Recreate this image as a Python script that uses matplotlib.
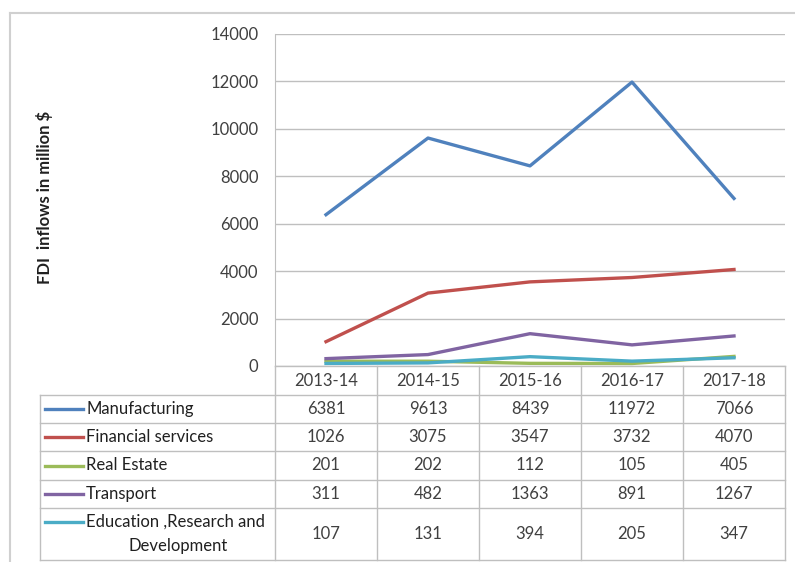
import matplotlib.pyplot as plt
from matplotlib.lines import Line2D
from matplotlib.transforms import blended_transform_factory

plt.rcParams['font.family'] = ['Lato', 'DejaVu Sans']

years = ["2013-14", "2014-15", "2015-16", "2016-17", "2017-18"]
manufacturing = [6381, 9613, 8439, 11972, 7066]
financial = [1026, 3075, 3547, 3732, 4070]
real_estate = [201, 202, 112, 105, 405]
transport = [311, 482, 1363, 891, 1267]
education = [107, 131, 394, 205, 347]

names = ["Manufacturing", "Financial services", "Real Estate", "Transport",
         "Education ,Research and\nDevelopment"]
series = [manufacturing, financial, real_estate, transport, education]
colors = ["#4F81BD", "#C0504D", "#9BBB59", "#8064A2", "#4BACC6"]

W, H = 795, 562
fig = plt.figure(figsize=(W / 100, H / 100), dpi=100)

def fx(px):
    return px / W

def fy(py):
    return 1 - py / H

grid_c = "#BFBFBF"
text_c = "#404040"
fs = 12

# outer chart border
fig.add_artist(Line2D([fx(10), fx(10)], [fy(13), 0], color="#D0D0D0", lw=1.5))
fig.add_artist(Line2D([fx(10), 1], [fy(13), fy(13)], color="#D0D0D0", lw=1.5))

ax = fig.add_axes([fx(275), fy(366), fx(785) - fx(275), fy(34) - fy(366)])
x = list(range(len(years)))
for vals, c in zip(series, colors):
    ax.plot(x, vals, color=c, lw=2.4, solid_joinstyle="round")

ax.set_xlim(-0.5, len(years) - 0.5)
ax.set_ylim(0, 14000)
ax.set_yticks(range(0, 14001, 2000))
ax.yaxis.grid(True, color=grid_c, lw=1)
ax.set_axisbelow(True)
ax.set_xticks([])
for s in ["top", "right", "bottom"]:
    ax.spines[s].set_visible(False)
ax.spines["left"].set_color(grid_c)
ax.tick_params(axis="y", length=0, pad=12, labelsize=fs, labelcolor=text_c)
ax.set_ylabel("FDI  inflows in million $", fontsize=12, fontweight="bold",
              color="#202020")
ax.yaxis.set_label_coords(-(275 - 53) / 510, (366 - 197) / 332)

# data table below the plot
tr = blended_transform_factory(ax.transData, fig.transFigure)
row_edges = [366, 395, 423, 451, 480, 508, 560]
left_px = 40
for i, e in enumerate(row_edges):
    x0 = fx(275) if i == 0 else fx(left_px)
    fig.add_artist(Line2D([x0, fx(785)], [fy(e), fy(e)], color=grid_c, lw=1))
fig.add_artist(Line2D([fx(left_px), fx(left_px)], [fy(395), fy(560)], color=grid_c, lw=1))
for k in range(len(years) + 1):
    ax.add_line(Line2D([k - 0.5, k - 0.5], [fy(366), fy(560)], color=grid_c,
                       lw=1, transform=tr, clip_on=False))

for k, yr in enumerate(years):
    ax.text(k, fy(381), yr, transform=tr, ha="center", va="center",
            fontsize=fs, color=text_c)

for r, (name, vals, c) in enumerate(zip(names, series, colors)):
    top, bot = row_edges[r + 1], row_edges[r + 2]
    yc = fy((top + bot) / 2)
    if "\n" in name:
        fig.add_artist(Line2D([fx(45), fx(83)], [fy(522), fy(522)], color=c, lw=2.4))
        fig.text(fx(86), fy(522), name.split("\n")[0], ha="left", va="center",
                 fontsize=fs, color="#202020")
        fig.text(fx(178), fy(546), name.split("\n")[1], ha="center", va="center",
                 fontsize=fs, color="#202020")
    else:
        fig.add_artist(Line2D([fx(45), fx(83)], [yc, yc], color=c, lw=2.4))
        fig.text(fx(86), yc, name, ha="left", va="center", fontsize=fs,
                 color="#202020")
    for k, v in enumerate(vals):
        ax.text(k, yc, str(v), transform=tr, ha="center", va="center",
                fontsize=fs, color=text_c)

fig.savefig("out.png", dpi=100)
